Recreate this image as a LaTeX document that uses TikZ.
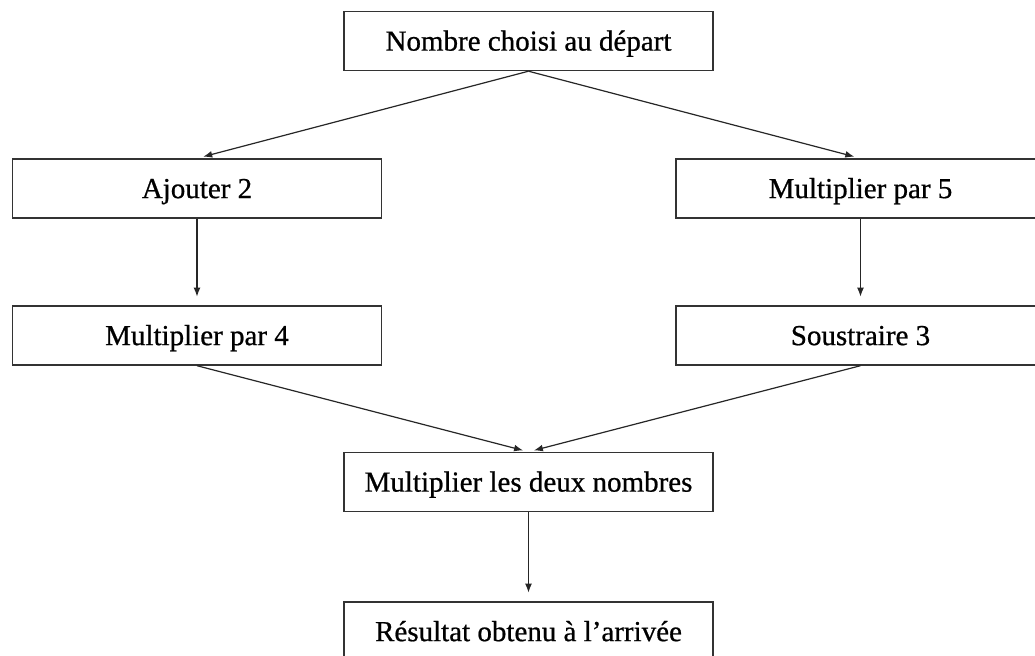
\documentclass[tikz,border=0pt]{standalone}
\usepackage{fontspec}
\setmainfont{Liberation Serif}[FakeBold=0.7]
\usetikzlibrary{arrows.meta}
\tikzset{
  stepbox/.style={draw=black!80, line width=0.7pt, minimum width=184.5pt, minimum height=29.5pt, inner sep=0pt, text height=12.6pt, text depth=3pt, font=\fontsize{14.5}{16}\selectfont, text=black},
  conn/.style={draw=black!85, line width=0.6pt, -{Latex[length=4.5pt,width=3.4pt]}, shorten >=3.2pt}
}
\begin{document}
\begin{tikzpicture}[x=0.5pt,y=-0.5pt]
\clip (0,0) rectangle (1035,655);
\fill[white] (0,0) rectangle (1035,655);
\node[stepbox] (n0) at (528.5,41) {Nombre choisi au départ};
\node[stepbox] (a1) at (197,188.5) {Ajouter 2};
\node[stepbox] (b1) at (860.5,188.5) {Multiplier par 5};
\node[stepbox] (a2) at (197,335.5) {Multiplier par 4};
\node[stepbox] (b2) at (860.5,335.5) {Soustraire 3};
\node[stepbox] (m) at (528.5,482) {Multiplier les deux nombres};
\node[stepbox] (r) at (528.5,631.5) {Résultat obtenu à l’arrivée};
\draw[conn] (n0.south) -- (a1.north);
\draw[conn] (n0.south) -- (b1.north);
\draw[conn, shorten >=4.3pt] (a1.south) -- (a2.north);
\draw[conn, shorten >=4.3pt] (b1.south) -- (b2.north);
\draw[conn, shorten >=2.8pt] (a2.south) -- (m.north);
\draw[conn, shorten >=2.8pt] (b2.south) -- (m.north);
\draw[conn, shorten >=4.3pt] (m.south) -- (r.north);
\end{tikzpicture}
\end{document}
